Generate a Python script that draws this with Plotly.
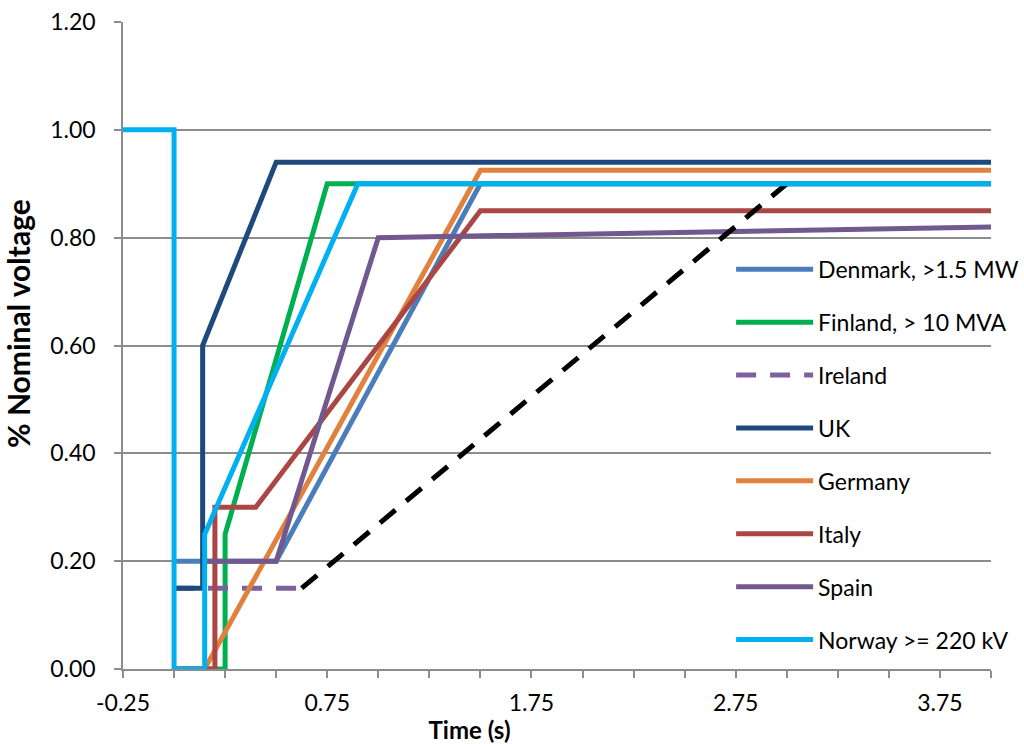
import plotly.graph_objects as go

# ---- data (time in s, voltage in p.u.) ----
denmark_t = [0.0, 0.5, 1.5, 4.0]
denmark_v = [0.20, 0.20, 0.90, 0.90]

finland_t = [0.0, 0.25, 0.25, 0.75, 4.0]
finland_v = [0.0, 0.0, 0.25, 0.90, 0.90]

ireland_t = [0.0, 0.625]
ireland_v = [0.15, 0.15]
ireland_rec_t = [0.625, 3.0]
ireland_rec_v = [0.15, 0.90]

uk_t = [0.0, 0.14, 0.14, 0.5, 4.0]
uk_v = [0.15, 0.15, 0.60, 0.94, 0.94]

germany_t = [0.0, 0.15, 1.5, 4.0]
germany_v = [0.0, 0.0, 0.925, 0.925]

italy_t = [0.0, 0.2, 0.2, 0.4, 1.5, 4.0]
italy_v = [0.0, 0.0, 0.30, 0.30, 0.85, 0.85]

spain_t = [0.15, 0.5, 1.0, 4.0]
spain_v = [0.20, 0.20, 0.80, 0.82]

norway_t = [-0.25, 0.0, 0.0, 0.15, 0.15, 0.9, 4.0]
norway_v = [1.0, 1.0, 0.0, 0.0, 0.25, 0.90, 0.90]

x_labels = [-0.25, 0.75, 1.75, 2.75, 3.75]
x_label_text = ["-0.25", "0.75", "1.75", "2.75", "3.75"]
y_ticks = [0.0, 0.2, 0.4, 0.6, 0.8, 1.0, 1.2]

series = [
    ("Denmark, >1.5 MW", denmark_t, denmark_v, "#4A7EBB", "solid"),
    ("Finland, > 10 MVA", finland_t, finland_v, "#00B050", "solid"),
    ("Ireland", ireland_t, ireland_v, "#7D60A0", "20px,14px"),
    ("UK", uk_t, uk_v, "#1F497D", "solid"),
    ("Germany", germany_t, germany_v, "#E0823D", "solid"),
    ("Italy", italy_t, italy_v, "#AA4643", "solid"),
    ("Spain", spain_t, spain_v, "#71588F", "solid"),
]

LW = 5
fig = go.Figure()
for name, t, v, col, dash in series:
    fig.add_trace(go.Scatter(x=t, y=v, mode="lines", name=name, legendgroup=name,
                             line=dict(color=col, width=LW, dash=dash)))

fig.add_trace(go.Scatter(x=ireland_rec_t, y=ireland_rec_v, mode="lines", name="Ireland",
                         legendgroup="Ireland", showlegend=False,
                         line=dict(color="#000000", width=LW, dash="20px,14px")))

fig.add_trace(go.Scatter(x=norway_t, y=norway_v, mode="lines", name="Norway >= 220 kV",
                         legendgroup="Norway", line=dict(color="#00B0F0", width=LW)))

NB = "\u00a0"
font_family = "Lato, 'Open Sans', sans-serif"
grid = "#8C8C8C"
fig.update_layout(
    width=1024, height=744,
    margin=dict(l=123, r=33, t=22, b=75, autoexpand=False),
    paper_bgcolor="white", plot_bgcolor="white",
    font=dict(family=font_family, color="#000000"),
    showlegend=True,
    legend=dict(x=0.7006, y=0.651, xanchor="left", yanchor="top",
                bgcolor="rgba(0,0,0,0)", font=dict(size=23, family=font_family),
                tracegroupgap=20, itemwidth=77),
    xaxis=dict(range=[-0.25, 4.0], tickvals=x_labels, ticktext=x_label_text,
               showgrid=False, zeroline=False, showline=True, linecolor=grid, linewidth=1.5,
               ticks="outside", ticklen=7, tickcolor=grid, tickwidth=1.5,
               minor=dict(ticks="outside", tick0=-0.25, dtick=0.25, ticklen=7,
                          tickcolor=grid, tickwidth=1.5, showgrid=False),
               tickfont=dict(size=23), ticklabelstandoff=6, automargin=False,
               title=dict(text="<b>Time (s)" + NB * 30 + "</b>", font=dict(size=24), standoff=2)),
    yaxis=dict(range=[0, 1.2], tickvals=y_ticks, tickformat=".2f",
               showgrid=True, gridcolor=grid, gridwidth=1.5, zeroline=False,
               showline=True, linecolor=grid, linewidth=1.5,
               ticks="outside", ticklen=7, tickcolor=grid, tickwidth=1.5,
               tickfont=dict(size=23), ticklabelstandoff=14, automargin=False,
               title=dict(text="<b>" + NB * 6 + "% Nominal voltage</b>", font=dict(size=30), standoff=12)),
)

fig.write_html("out.html",
               config={"displayModeBar": False},
               post_script="document.documentElement.style.margin='0';"
                           "document.body.style.margin='0';"
                           "document.body.style.overflow='hidden';")
